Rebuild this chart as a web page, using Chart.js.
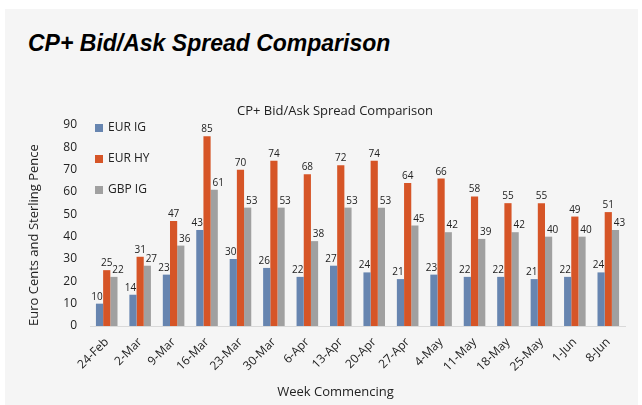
<!DOCTYPE html>
<html><head><meta charset="utf-8">
<script src="https://cdn.jsdelivr.net/npm/chart.js@4.4.1/dist/chart.umd.min.js"></script>
<style>
html,body{margin:0;padding:0;background:#fff;width:642px;height:405px;overflow:hidden;}
#panel{position:absolute;left:5px;top:9px;width:633px;height:396px;background:#f5f5f5;}
#h{position:absolute;left:28px;top:28px;margin:0;font:italic 900 23px "Liberation Sans",Arial,sans-serif;color:#000;white-space:nowrap;line-height:30px;}
#wrap{position:absolute;left:0;top:0;width:642px;height:405px;}
</style></head><body>
<div id="panel"></div>
<h1 id="h">CP+ Bid/Ask Spread Comparison</h1>
<div id="wrap"><canvas id="c"></canvas></div>
<script>
const categories = ["24-Feb","2-Mar","9-Mar","16-Mar","23-Mar","30-Mar","6-Apr","13-Apr","20-Apr","27-Apr","4-May","11-May","18-May","25-May","1-Jun","8-Jun"];
const eurIG = [10,14,23,43,30,26,22,27,24,21,23,22,22,21,22,24];
const eurHY = [25,31,47,85,70,74,68,72,74,64,66,58,55,55,49,51];
const gbpIG = [22,27,36,61,53,53,38,53,53,45,42,39,42,40,40,43];
const seriesNames = ["EUR IG","EUR HY","GBP IG"];
const chartTitle = "CP+ Bid/Ask Spread Comparison";
const yTitle = "Euro Cents and Sterling Pence";
const xTitle = "Week Commencing";

const FONT = '"Open Sans", sans-serif';
const colors = ["#6785b0","#d65527","#a0a0a0"];
const labelShift = [-2.5, 0, 4];

const legendPlugin = {
  id: 'insideLegend',
  afterDatasetsDraw(chart) {
    const ctx = chart.ctx, a = chart.chartArea;
    ctx.save();
    ctx.font = '12px ' + FONT;
    ctx.textBaseline = 'middle';
    ctx.textAlign = 'left';
    chart.data.datasets.forEach((ds, i) => {
      const y = a.top + 3 + i * 31;
      ctx.fillStyle = ds.backgroundColor;
      ctx.fillRect(a.left + 5, y - 4, 8, 8);
      ctx.fillStyle = '#222';
      ctx.fillText(ds.label, a.left + 18, y);
    });
    ctx.restore();
  }
};

const valuePlugin = {
  id: 'values',
  afterDatasetsDraw(chart) {
    const ctx = chart.ctx;
    ctx.save();
    ctx.font = '10px ' + FONT;
    ctx.fillStyle = '#222';
    ctx.textAlign = 'center';
    ctx.textBaseline = 'alphabetic';
    chart.data.datasets.forEach((ds, i) => {
      const meta = chart.getDatasetMeta(i);
      meta.data.forEach((el, j) => {
        ctx.fillText(String(ds.data[j]), el.x + labelShift[i], el.y - 4);
      });
    });
    ctx.restore();
  }
};

const titlesPlugin = {
  id: 'titles',
  afterDraw(chart) {
    const ctx = chart.ctx;
    ctx.save();
    ctx.font = '13px ' + FONT;
    ctx.fillStyle = '#222';
    ctx.textAlign = 'center';
    ctx.textBaseline = 'middle';
    ctx.fillText(chartTitle, 335, 111);
    ctx.fillText(xTitle, 335.5, 392);
    ctx.restore();
  }
};

new Chart(document.getElementById('c'), {
  type: 'bar',
  data: {
    labels: categories,
    datasets: [
      {label: seriesNames[0], data: eurIG, backgroundColor: colors[0]},
      {label: seriesNames[1], data: eurHY, backgroundColor: colors[1]},
      {label: seriesNames[2], data: gbpIG, backgroundColor: colors[2]}
    ]
  },
  options: {
    responsive: true,
    maintainAspectRatio: false,
    animation: false,
    datasets: {bar: {categoryPercentage: 0.645, barPercentage: 1.0}},
    layout: {padding: {left: 5, right: 17, top: 125, bottom: 5}},
    plugins: {
      legend: {display: false},
      tooltip: {enabled: false},
      title: {display: false}
    },
    scales: {
      x: {
        grid: {display: false, drawTicks: false},
        border: {display: true, color: '#d9d9d9', width: 1},
        ticks: {minRotation: 45, maxRotation: 45, autoSkip: false, color: '#222', font: {family: FONT, size: 12}, padding: 9},
        title: {display: false, text: xTitle},
        afterFit(s) { s.height = 74; }
      },
      y: {
        min: 0, max: 90,
        grid: {display: false, drawTicks: false},
        border: {display: false},
        ticks: {stepSize: 10, color: '#222', font: {family: FONT, size: 12}, padding: 13},
        title: {display: true, text: yTitle, align: 'start', color: '#222', font: {family: FONT, size: 13}, padding: {top: 21, bottom: 0}},
        afterFit(s) { s.width = 85; }
      }
    }
  },
  plugins: [legendPlugin, valuePlugin, titlesPlugin]
});
</script>
</body></html>
